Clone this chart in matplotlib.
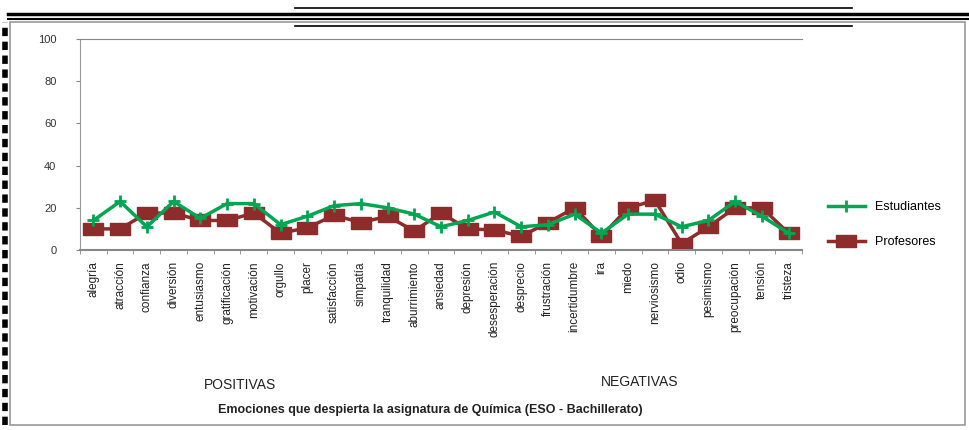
import matplotlib
matplotlib.use('Agg')
import matplotlib.pyplot as plt
import numpy as np
from matplotlib.lines import Line2D
from matplotlib.patches import Rectangle

plt.rcParams['font.family'] = ['Liberation Sans', 'DejaVu Sans']

# --- datos ---
emociones = ['alegría', 'atracción', 'confianza', 'diversión', 'entusiasmo',
             'gratificación', 'motivación', 'orgullo', 'placer', 'satisfacción',
             'simpatía', 'tranquilidad', 'aburrimiento', 'ansiedad', 'depresión',
             'desesperación', 'desprecio', 'frustración', 'incertidumbre', 'ira',
             'miedo', 'nerviosismo', 'odio', 'pesimismo', 'preocupación',
             'tensión', 'tristeza']
estudiantes = [14, 23, 11, 23, 15, 22, 22, 12, 16, 21, 22, 20, 17, 11,
               14, 18, 11, 12, 17, 8, 17, 17, 11, 14, 23, 16, 8]
profesores = [10, 10, 17.5, 17.5, 14, 14, 17.5, 8, 10.5, 16.5, 13, 16, 9, 17.5,
              10, 9.5, 6.5, 13, 20, 6.5, 20, 23.5, 3, 11, 20, 20, 8]
yticks = [0, 20, 40, 60, 80, 100]

verde = '#00A651'
granate = '#8E2C2C'

fig = plt.figure(figsize=(9.7, 4.3), dpi=100)
ax = fig.add_axes([80 / 970, 1 - 250 / 430, 722 / 970, 211 / 430])

x = np.arange(len(emociones))
# marcador rectangular ancho para Profesores
rect = [(-1.7, -1), (1.7, -1), (1.7, 1), (-1.7, 1), (-1.7, -1)]

ax.plot(x, estudiantes, color=verde, lw=2.5, marker='+', ms=9, mew=2,
        label='Estudiantes', zorder=3)
ax.plot(x, profesores, color=granate, lw=2.5, marker=rect, ms=15,
        mfc=granate, mec=granate, label='Profesores', zorder=2)

ax.set_xlim(-0.5, len(emociones) - 0.5)
ax.set_ylim(0, 100)
ax.set_yticks(yticks)
ax.set_yticklabels([str(v) for v in yticks], fontsize=8, color='#333333')
ax.set_xticks(x)
ax.set_xticklabels(emociones, rotation=90, fontsize=8.5, color='#222222')
ax.set_xticks(np.arange(len(emociones) + 1) - 0.5, minor=True)
ax.tick_params(axis='x', which='major', length=0, pad=8)
ax.tick_params(axis='x', which='minor', length=3, color='#888888')
ax.tick_params(axis='y', length=3, color='#888888', pad=14)

ax.spines['right'].set_visible(False)
ax.spines['top'].set_color('#888888')
ax.spines['left'].set_color('#999999')
ax.spines['left'].set_linestyle((0, (2, 1)))
ax.spines['bottom'].set_color('#888888')
ax.spines['bottom'].set_linewidth(1.5)

ax.legend(loc='center left', bbox_to_anchor=(1.02, 0.12), frameon=False,
          fontsize=9, handlelength=3, labelspacing=1.8)

fig.text(240 / 970, 1 - 385 / 430, 'POSITIVAS', ha='center', va='center',
         fontsize=10, color='#222222')
fig.text(640 / 970, 1 - 382 / 430, 'NEGATIVAS', ha='center', va='center',
         fontsize=10, color='#222222')
fig.text(430 / 970, 1 - 410 / 430,
         'Emociones que despierta la asignatura de Química (ESO - Bachillerato)',
         ha='center', va='center', fontsize=9, fontweight='bold', color='#222222')

# marco del gráfico y líneas del documento
fig.add_artist(Rectangle((10 / 970, 1 - 425 / 430), 955 / 970, 403 / 430,
                         transform=fig.transFigure, fill=False,
                         edgecolor='#999999', lw=1.2))
for yy, lw in [(14, 2.5), (19, 1.5)]:
    fig.add_artist(Line2D([8 / 970, 1], [1 - yy / 430] * 2,
                          transform=fig.transFigure, color='black', lw=lw))
for yy in [8, 26]:
    fig.add_artist(Line2D([295 / 970, 852 / 970], [1 - yy / 430] * 2,
                          transform=fig.transFigure, color='black', lw=1.2))
fig.add_artist(Line2D([5 / 970] * 2, [1 - 425 / 430, 1 - 22 / 430],
                      transform=fig.transFigure, color='black', lw=4,
                      linestyle=(0, (1.5, 1))))

fig.savefig('out.png', dpi=100)
